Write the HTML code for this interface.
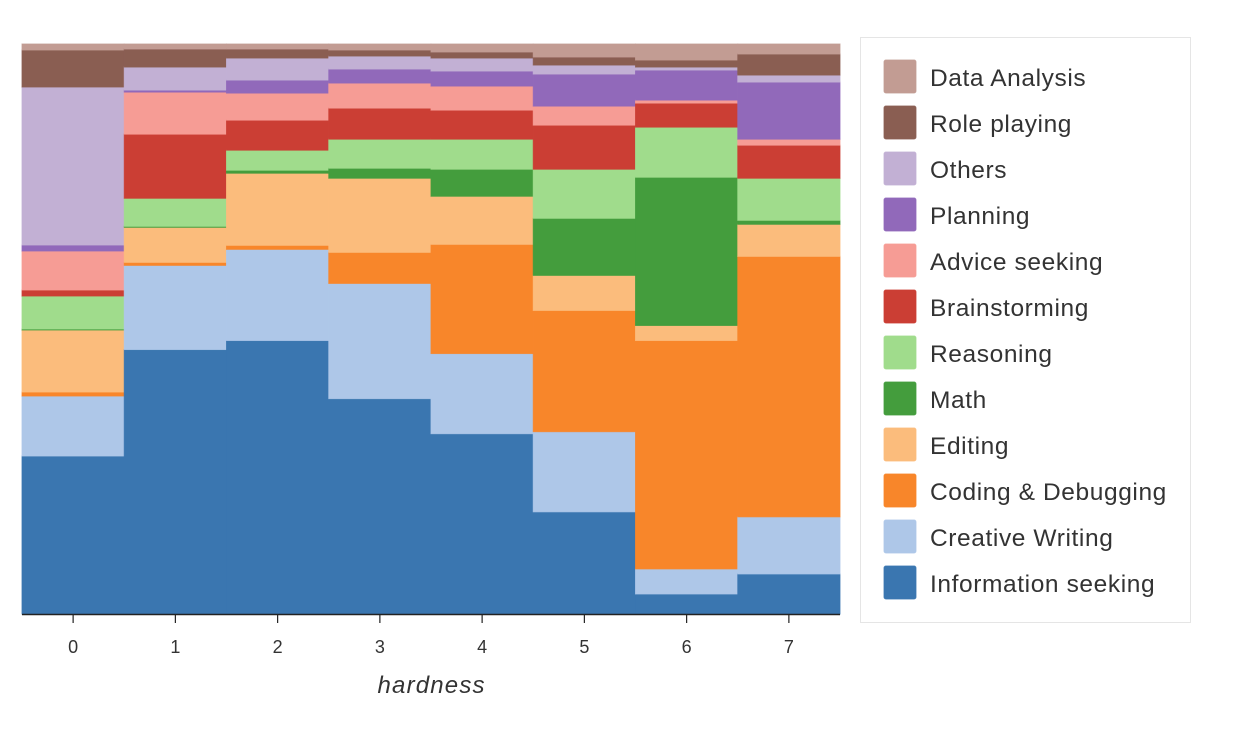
<!DOCTYPE html>
<html><head><meta charset="utf-8"><style>
body{margin:0;background:#fff;font-family:"Liberation Sans",sans-serif}
</style></head><body>
<svg id="chart" width="1240" height="724" xmlns="http://www.w3.org/2000/svg"></svg>
<script>
const categories=["0","1","2","3","4","5","6","7"];
const seriesNames=["Information seeking","Creative Writing","Coding & Debugging","Editing","Math","Reasoning","Brainstorming","Advice seeking","Planning","Others","Role playing","Data Analysis"];
const colors=["#3a76b0","#aec7e8","#f8862a","#fbbc7c","#449d3d","#a0dc8c","#cb3e34","#f69c95","#9169ba","#c2b0d4","#8a5e52","#c29c93"];
const infoSeeking=[158,264,273,215,180,102,20,40];
const creativeWriting=[60,84,91,115,80,80,25,57];
const coding=[4,3,4,31,109,121,228,260];
const editing=[62,35,72,74,48,35,15,32];
const math=[1,1,3,10,27,57,148,4];
const reasoning=[33,28,20,29,30,49,50,42];
const brainstorming=[6,64,30,31,29,44,24,33];
const adviceSeeking=[39,42,27,25,24,19,3,6];
const planning=[6,2,13,14,15,32,30,57];
const others=[158,23,22,13,13,9,3,7];
const rolePlaying=[37,18,9,6,6,8,7,21];
const dataAnalysis=[6,5,5,6,8,13,16,10];
const series=[infoSeeking,creativeWriting,coding,editing,math,reasoning,brainstorming,adviceSeeking,planning,others,rolePlaying,dataAnalysis];

const NS="http://www.w3.org/2000/svg";
const svg=document.getElementById('chart');
const L=22,R=840,T=44,B=614;
const bw=(R-L)/categories.length;
const xPos=i=>L+i*bw;
const yPos=f=>B-f*(B-T);
function mk(tag,attrs,parent){const e=document.createElementNS(NS,tag);for(const k in attrs)e.setAttribute(k,attrs[k]);(parent||svg).appendChild(e);return e;}
const plot=mk('g',{});


categories.forEach((c,i)=>{
  let tot=0;series.forEach(s=>tot+=s[i]);
  let cum=0;
  series.forEach((s,j)=>{
    const y1=yPos(cum/tot);cum+=s[i];const y0=yPos(cum/tot);
    const r=mk('rect',{x:xPos(i),y:y0,width:bw,height:Math.max(0,y1-y0),fill:colors[j],stroke:colors[j],'stroke-width':1,'stroke-opacity':0.8},plot);
    
    
  });
});
const ax=mk('g',{});


mk('line',{x1:L,x2:R,y1:B+0.5,y2:B+0.5,stroke:'#222','stroke-width':1.5},ax);
categories.forEach((c,i)=>{
  const cx=xPos(i)+bw/2;
  mk('line',{x1:cx,x2:cx,y1:B,y2:B+9,stroke:'#222','stroke-width':1.2},ax);
  const t=mk('text',{x:cx,y:653,'text-anchor':'middle','font-size':18,fill:'#333'},ax);
  t.textContent=c;
  
  
});
const xt=mk('text',{x:431,y:693,'text-anchor':'middle','font-size':24,'font-style':'italic',fill:'#333',textLength:107});
xt.textContent='hardness';


const lg=mk('g',{});


mk('rect',{x:860.5,y:37.5,width:330,height:585,fill:'#fff',stroke:'#e5e5e5'},lg);
for(let j=series.length-1,k=0;j>=0;j--,k++){
  const y=60+k*46;
  const e=mk('g',{},lg);
  
  
  mk('rect',{x:884,y:y,width:32,height:33,fill:colors[j],stroke:colors[j],'stroke-opacity':0.8,rx:2},e);
  const t=mk('text',{x:930,y:y+26,'font-size':24.5,'letter-spacing':0.6,fill:'#333'},e);
  t.textContent=seriesNames[j];
}
</script>
</body></html>
